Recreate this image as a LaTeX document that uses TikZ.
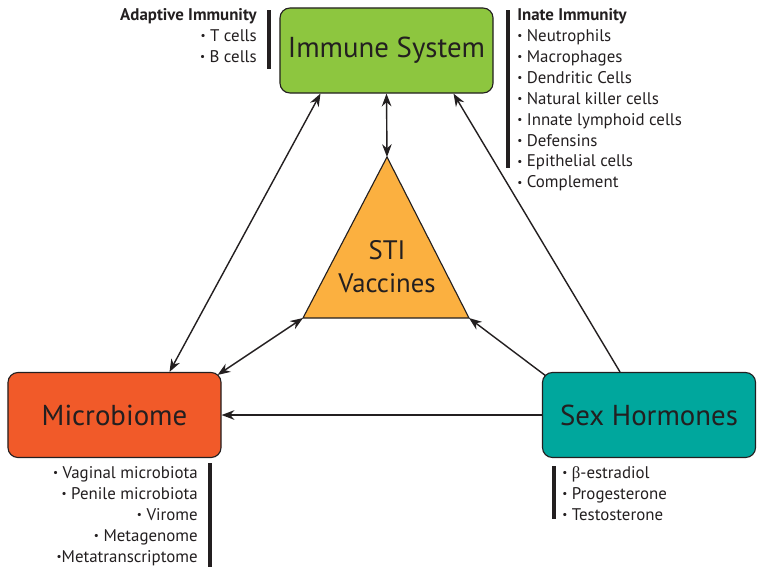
\documentclass[tikz,border=0pt]{standalone}
\usepackage{fontspec}
\setmainfont{PT Sans}
\newfontfamily\symfont{Liberation Serif}
\usetikzlibrary{calc,arrows.meta}
\definecolor{inkgray}{RGB}{35,31,32}
\definecolor{immgreen}{RGB}{141,198,63}
\definecolor{vacorange}{RGB}{251,176,64}
\definecolor{micred}{RGB}{241,90,41}
\definecolor{hormteal}{RGB}{0,167,157}
\newcommand{\bul}{{\fontsize{8}{8}\selectfont\raisebox{0.25ex}{•}}}
\tikzstyle{hub} = [rectangle, draw=inkgray, line width=0.8pt, rounded corners=0.25cm, minimum width=5.325cm, minimum height=2.125cm, text=inkgray, font=\fontsize{20.5}{24}\selectfont]
\tikzstyle{link} = [draw=inkgray, line width=1pt, -{Stealth[length=3.2mm,width=2.4mm]}]
\tikzstyle{items} = [inner sep=0pt, text=inkgray, font=\fontsize{12}{14.9}\selectfont]
\tikzstyle{bar} = [draw=inkgray, line width=2.2pt]

\begin{document}
\begin{tikzpicture}[x=0.025cm, y=-0.025cm]
        \useasboundingbox (0, 0) rectangle (764, 575);

        \node[hub, fill=immgreen] at (386.5, 50.5) (immune) {Immune System};
        \node[hub, fill=micred] at (114.5, 415) (micro) {Microbiome};
        \node[hub, fill=hormteal] at (649, 415) (hormones) {Sex Hormones};

        \coordinate (apex) at (387, 157);
        \coordinate (baseL) at (303, 318);
        \coordinate (baseR) at (469, 318);
        \filldraw[fill=vacorange, draw=inkgray, line width=0.8pt] (apex) -- (baseR) -- (baseL) -- cycle;
        \node[align=center, text=inkgray, font=\fontsize{19}{23.4}\selectfont] at (387, 267) (vaccines) {STI\\Vaccines};

        % lists
        \node[items, align=right, anchor=north east] at (257, 8) (adaptive) {\textbf{Adaptive Immunity}\\\bul\ T cells\\\bul\ B cells};
        \node[items, align=left, anchor=north west] at (517, 8) (innate) {\textbf{Inate Immunity}\\\bul\ Neutrophils\\\bul\ Macrophages\\\bul\ Dendritic Cells\\\bul\ Natural killer cells\\\bul\ Innate lymphoid cells\\\bul\ Defensins\\\bul\ Epithelial cells\\\bul\ Complement};
        \node[items, align=right, anchor=north east] at (198, 466) (microlist) {\bul\ Vaginal microbiota\\\bul\ Penile microbiota\\\bul\ Virome\\\bul\ Metagenome\\\bul Metatranscriptome};
        \node[items, align=left, anchor=north west] at (562, 466) (hormlist) {\bul\ {\symfont β}-estradiol\\\bul\ Progesterone\\\bul\ Testosterone};

        \draw[bar] (269, 10) -- (269, 69);
        \draw[bar] (508, 10) -- (508, 168);
        \draw[bar] (210, 463) -- (210, 567);
        \draw[bar] (554, 466) -- (554, 519);

        % connectors
        \draw[link, {Stealth[length=3.2mm,width=2.4mm]}-{Stealth[length=3.2mm,width=2.4mm]}] (immune.south) -- (apex);
        \draw[link, {Stealth[length=3.2mm,width=2.4mm]}-{Stealth[length=3.2mm,width=2.4mm]}] ($(micro.north)+(55, 0)$) -- ($(immune.south)+(-66, 0)$);
        \draw[link, {Stealth[length=3.2mm,width=2.4mm]}-{Stealth[length=3.2mm,width=2.4mm]}] ($(micro.north east)+(-4, 3)$) -- (baseL);
        \draw[link] ($(hormones.north)+(-29, 0)$) -- ($(immune.south)+(67, 0)$);
        \draw[link] ($(hormones.north west)+(4, 4)$) -- (baseR);
        \draw[link] (hormones.west) -- (micro.east);

    \end{tikzpicture}
\end{document}
